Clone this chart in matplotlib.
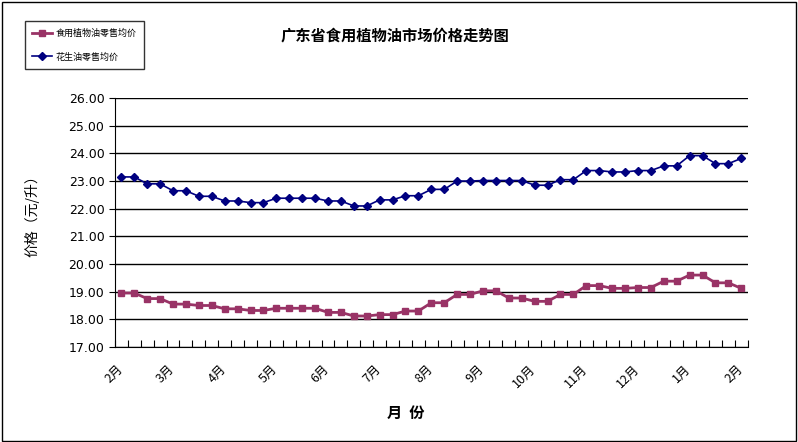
import matplotlib
matplotlib.use("Agg")
import matplotlib.pyplot as plt
from matplotlib.patches import Rectangle
import numpy as np

plt.rcParams['font.family'] = ['Noto Sans CJK SC', 'DejaVu Sans']

months = ["2月","3月","4月","5月","6月","7月","8月","9月","10月","11月","12月","1月","2月"]
peanut = [23.15,23.15,22.9,22.9,22.65,22.65,22.45,22.45,22.28,22.28,22.22,22.22,22.38,22.38,22.38,22.38,
          22.28,22.28,22.1,22.1,22.32,22.32,22.47,22.47,22.7,22.7,23.0,23.0,23.02,23.02,23.02,23.02,
          22.85,22.85,23.05,23.05,23.38,23.38,23.33,23.33,23.38,23.38,23.55,23.55,23.92,23.92,23.63,23.63,23.82]
veg = [18.95,18.95,18.75,18.75,18.55,18.55,18.5,18.5,18.38,18.38,18.32,18.32,18.4,18.4,18.4,18.4,
       18.25,18.25,18.12,18.12,18.17,18.17,18.3,18.3,18.6,18.6,18.9,18.9,19.03,19.03,18.77,18.77,
       18.65,18.65,18.9,18.9,19.22,19.22,19.12,19.12,19.15,19.15,19.38,19.38,19.6,19.6,19.32,19.32,19.12]
yticks = [17,18,19,20,21,22,23,24,25,26]

fig = plt.figure(figsize=(7.98,4.42), dpi=100)
fig.patches.append(Rectangle((0.002,0.002),0.996,0.994, transform=fig.transFigure, fill=False, ec='black', lw=1))
ax = fig.add_axes([0.144,0.215,0.793,0.563])
x = np.arange(len(peanut))
l1, = ax.plot(x, veg, color='#993366', marker='s', ms=5, lw=2, label='食用植物油零售均价')
l2, = ax.plot(x, peanut, color='#000080', marker='D', ms=4, lw=1.2, label='花生油零售均价')
ax.set_xlim(-0.4, len(x)-0.6)
ax.set_ylim(17,26)
ax.set_yticks(yticks)
ax.set_yticklabels([f"{v:.2f}" for v in yticks], fontsize=9, fontfamily='DejaVu Sans')
ax.yaxis.grid(True, color='black', lw=1)
ax.set_xticks(np.arange(-0.5, len(x), 1), minor=False)
ax.set_xticklabels([])
ax.tick_params(axis='x', length=5, direction='in')
ax.tick_params(axis='y', length=4, direction='out')
for i, m in enumerate(months):
    ax.text(i*4+0.3, 16.45, m, rotation=45, ha='right', va='top', fontsize=9)
for s in ['top','right']:
    ax.spines[s].set_visible(False)
ax.set_axisbelow(True)
fig.text(0.495, 0.92, '广东省食用植物油市场价格走势图', ha='center', va='center', fontsize=11, fontweight='bold')
fig.text(0.04, 0.52, '价格（元/升）', rotation=90, ha='center', va='center', fontsize=10)
fig.text(0.508, 0.065, '月  份', ha='center', va='center', fontsize=11, fontweight='bold')
fig.legend(handles=[l1,l2], loc='upper left', bbox_to_anchor=(0.026,0.962), fontsize=6.5,
           frameon=True, fancybox=False, edgecolor='black', labelspacing=1.6, handlelength=2.2,
           handletextpad=0.4, borderpad=0.8)
fig.savefig('out.png', dpi=100)
